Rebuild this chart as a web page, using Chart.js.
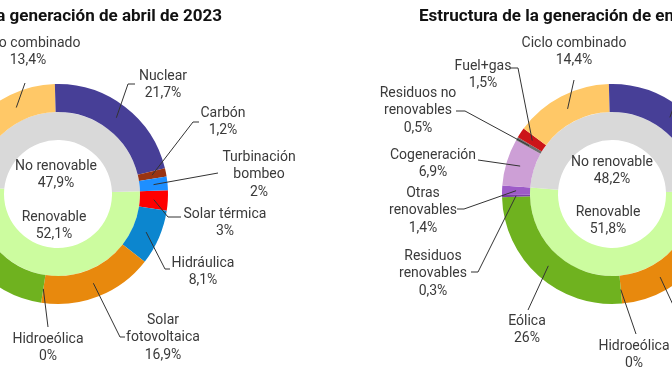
<!DOCTYPE html>
<html>
<head>
<meta charset="utf-8">
<script src="https://cdn.jsdelivr.net/npm/chart.js@4.4.1/dist/chart.umd.min.js"></script>
<style>
  html, body { margin: 0; padding: 0; width: 672px; height: 372px; overflow: hidden; background: #fff; }
  canvas { position: absolute; top: 0; }
</style>
</head>
<body>
<canvas id="leftChart" width="500" height="372" style="left:-150px"></canvas>
<canvas id="rightChart" width="500" height="372" style="left:330px"></canvas>
<script>
/* global Chart */

// outer ring categories, clockwise from the start of the renewable block
const categories = [
  'Solar térmica', 'Hidráulica', 'Solar\nfotovoltaica', 'Hidroeólica', 'Eólica',
  'Residuos\nrenovables', 'Otras\nrenovables', 'Cogeneración', 'Residuos no\nrenovables',
  'Fuel+gas', 'Ciclo combinado', 'Nuclear', 'Carbón', 'Turbinación\nbombeo'
]
const groups = ['Renovable', 'No renovable']

// abril 2023 (left)
const aprilValues = [3, 8.1, 16.9, 0, 22.4, 0.3, 1.4, 7.2, 0.6, 1.8, 13.4, 21.7, 1.2, 2]
const aprilGroups = [52.1, 47.9]
// enero-abril 2023 (right)
const ytdValues = [1.8, 8.5, 13.8, 0, 26, 0.3, 1.4, 6.9, 0.5, 1.5, 14.4, 21.5, 1.4, 2]
const ytdGroups = [51.8, 48.2]

const titleLeft = 'Estructura de la generación de abril de 2023'
const titleRight = 'Estructura de la generación de enero-abril de 2023'

const colors = [
  '#ff0000', '#0c86cf', '#e8890d', '#3b8a2a', '#6fb21f',
  '#7b3fa6', '#9d5bc8', '#cd9fd6', '#6e6e6e',
  '#cc1418', '#ffc867', '#473f97', '#9a3412', '#1e8fff'
]
const groupColors = ['#ccfc9f', '#d9d9d9']

const FONT = '14px Roboto, "Noto Sans", sans-serif'
const TEXT = '#3a3a3a'
const LINE_H = 17.5

// label text anchor (first line centre) + leader line points, page coords
const leftLayout = [
  { x: 225, y: 214, pts: [[168, 217], [181, 217]] },
  { x: 203, y: 263, pts: [[165, 269], [170, 269]] },
  { x: 163, y: 320, pts: [[120, 337], [125, 337]] },
  { x: 48, y: 339, pts: [[48, 327]] },
  { x: -70, y: 320, pts: [[-50, 310]] },
  { x: -120, y: 256, pts: [[-90, 272]] },
  { x: -120, y: 193, pts: [[-90, 209]] },
  { x: -120, y: 155, pts: [[-90, 160]] },
  { x: -120, y: 93, pts: [[-90, 111]] },
  { x: -80, y: 66, pts: [[-60, 68]] },
  { x: 28, y: 43, pts: [[25, 83]] },
  { x: 163, y: 76, pts: [[128, 84], [135, 84]] },
  { x: 223, y: 113, pts: [[193, 122], [199, 122]] },
  { x: 259, y: 157, pts: [[218, 173]] }
]
const rightLayout = [
  { x: 779, y: 214, pts: [[722, 217], [735, 217]] },
  { x: 757, y: 263, pts: [[719, 269], [724, 269]] },
  { x: 728, y: 320, pts: [[688, 337], [693, 337]] },
  { x: 634, y: 346, pts: [[636, 334]] },
  { x: 527, y: 321, pts: [[528, 310]] },
  { x: 433, y: 256, pts: [[478, 272], [471, 272]] },
  { x: 423, y: 193, pts: [[464, 209], [457, 209]] },
  { x: 433, y: 155, pts: [[478, 160]] },
  { x: 418, y: 93, pts: [[465, 111], [456, 111]] },
  { x: 483, y: 66, pts: [[518, 68], [510, 68]] },
  { x: 574, y: 43, pts: [[574, 80]] },
  { x: 717, y: 76, pts: [[682, 84], [689, 84]] },
  { x: 777, y: 113, pts: [[747, 122], [753, 122]] },
  { x: 813, y: 157, pts: [[772, 173]] }
]

function fmtPct(v) {
  return String(v).replace('.', ',') + '%'
}

const labelPlugin = {
  id: 'donutLabels',
  afterDatasetsDraw(chart, args, opts) {
    const ctx = chart.ctx
    const ox = opts.offsetX
    const arcs = chart.getDatasetMeta(0).data
    const values = chart.data.datasets[0].data
    ctx.save()
    ctx.translate(-ox, 0)
    ctx.font = FONT
    ctx.fillStyle = TEXT
    ctx.strokeStyle = '#333'
    ctx.lineWidth = 1
    ctx.textAlign = 'center'
    ctx.textBaseline = 'middle'
    arcs.forEach((arc, i) => {
      const lay = opts.layout[i]
      const p = arc.tooltipPosition()
      ctx.beginPath()
      ctx.moveTo(p.x + ox, p.y)
      lay.pts.forEach(q => ctx.lineTo(q[0], q[1]))
      ctx.stroke()
      const lines = chart.data.labels[i].split('\n').concat(fmtPct(values[i]))
      lines.forEach((t, k) => ctx.fillText(t, lay.x, lay.y + k * LINE_H))
    })
    // centre texts for the inner ring
    const inner = chart.data.datasets[1].data
    opts.center.forEach((c, i) => {
      ctx.fillText(groups[i], c.x, c.y)
      ctx.fillText(fmtPct(inner[i]), c.x, c.y + LINE_H)
    })
    // title
    ctx.font = 'bold 17px Roboto, "Noto Sans", sans-serif'
    ctx.fillStyle = '#111'
    ctx.textBaseline = 'alphabetic'
    ctx.textAlign = opts.title.align
    ctx.fillText(opts.title.text, opts.title.x, 21)
    ctx.restore()
  }
}

function makeDonut(id, values, groupValues, offsetX, cx, layout, center, title) {
  const R = 110
  const cy = 194
  const left = cx - offsetX - R
  return new Chart(document.getElementById(id), {
    type: 'doughnut',
    data: {
      labels: categories,
      datasets: [
        { data: values, backgroundColor: colors, borderWidth: 0, hoverOffset: 0 },
        { data: groupValues, backgroundColor: groupColors, borderWidth: 0, hoverOffset: 0 }
      ]
    },
    options: {
      responsive: false,
      animation: false,
      rotation: 88,
      cutout: 54,
      layout: { padding: { left: left, top: cy - R, right: 500 - left - 2 * R, bottom: 372 - cy - R } },
      plugins: {
        legend: { display: false },
        tooltip: { enabled: false },
        donutLabels: { offsetX, layout, center, title }
      }
    },
    plugins: [labelPlugin]
  })
}

makeDonut('leftChart', aprilValues, aprilGroups, -150, 58, leftLayout,
  [{ x: 54, y: 217 }, { x: 56, y: 166 }],
  { text: titleLeft, x: 222, align: 'right' })
makeDonut('rightChart', ytdValues, ytdGroups, 330, 612, rightLayout,
  [{ x: 608, y: 212 }, { x: 612, y: 162 }],
  { text: titleRight, x: 419, align: 'left' })
</script>
</body>
</html>
